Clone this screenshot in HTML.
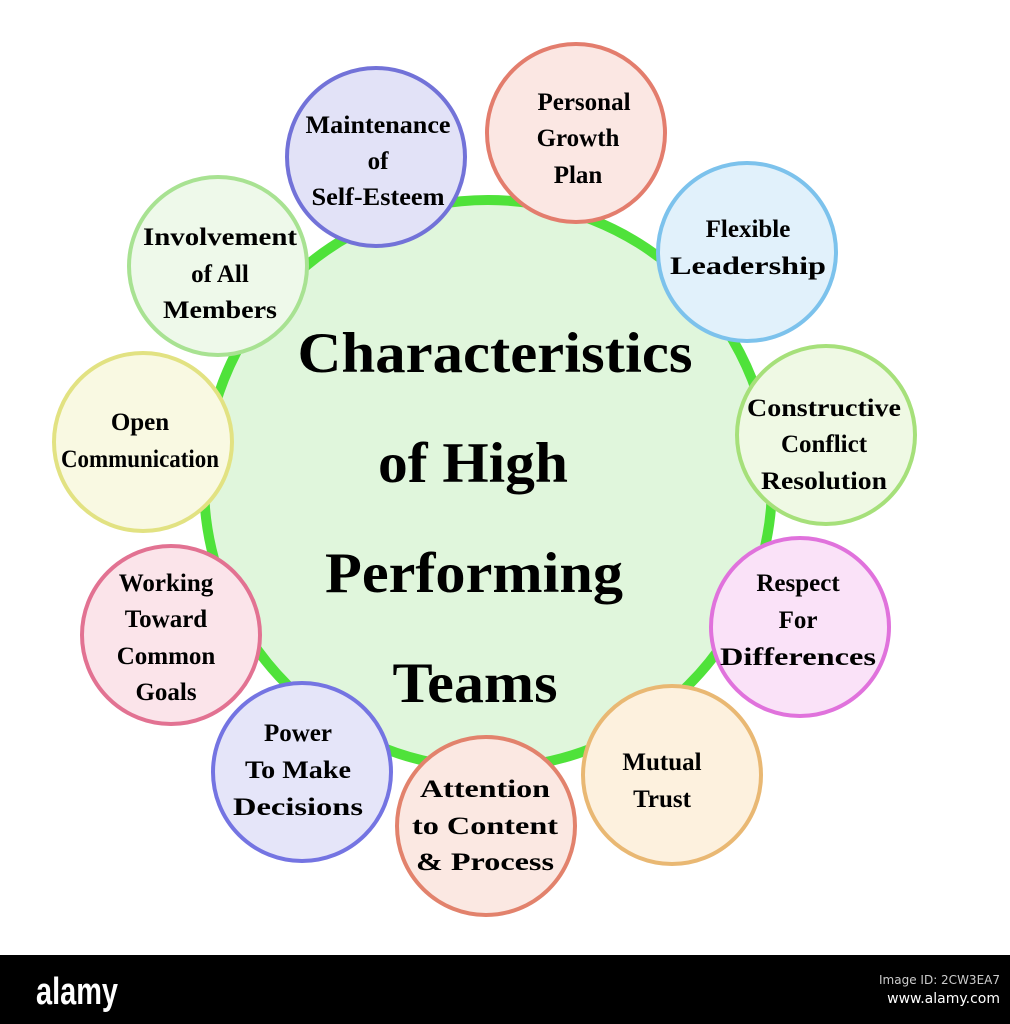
<!DOCTYPE html>
<html><head><meta charset="utf-8"><style>
html,body{margin:0;padding:0;background:#fff;}
svg{display:block;}
text{font-family:"Liberation Serif",serif;font-weight:bold;fill:#000;text-anchor:middle;}
.s{font-size:25px;}
.m{font-size:57px;}
</style></head><body>
<svg width="1010" height="1024" viewBox="0 0 1010 1024" xmlns="http://www.w3.org/2000/svg">
<rect width="1010" height="1024" fill="#fff"/>
<circle cx="488" cy="484" r="284" fill="#e0f6dc" stroke="#4fe23a" stroke-width="10"/>

<circle cx="376" cy="157" r="89" fill="#e2e2f7" stroke="#7272d8" stroke-width="4"/>
<circle cx="576" cy="133" r="89" fill="#fbe7e3" stroke="#e37d6d" stroke-width="4"/>
<circle cx="747" cy="252" r="89" fill="#e1f1fb" stroke="#7cc2ec" stroke-width="4"/>
<circle cx="826" cy="435" r="89" fill="#eff9e4" stroke="#a6e07a" stroke-width="4"/>
<circle cx="800" cy="627" r="89" fill="#fae2f8" stroke="#e072dc" stroke-width="4"/>
<circle cx="672" cy="775" r="89" fill="#fdf1de" stroke="#e9b873" stroke-width="4"/>
<circle cx="486" cy="826" r="89" fill="#fbe8e2" stroke="#e2826c" stroke-width="4"/>
<circle cx="302" cy="772" r="89" fill="#e5e5f9" stroke="#7474e2" stroke-width="4"/>
<circle cx="171" cy="635" r="89" fill="#fbe4ea" stroke="#e27292" stroke-width="4"/>
<circle cx="143" cy="442" r="89" fill="#f9f9e2" stroke="#e2e282" stroke-width="4"/>
<circle cx="218" cy="266" r="89" fill="#eef9ea" stroke="#a8e292" stroke-width="4"/>

<text class="m" x="495" y="372" textLength="395" lengthAdjust="spacingAndGlyphs">Characteristics</text>
<text class="m" x="473" y="482" textLength="190" lengthAdjust="spacingAndGlyphs">of High</text>
<text class="m" x="474" y="592" textLength="298" lengthAdjust="spacingAndGlyphs">Performing</text>
<text class="m" x="475" y="702" textLength="165" lengthAdjust="spacingAndGlyphs">Teams</text>

<text class="s" x="378" y="133" textLength="145" lengthAdjust="spacingAndGlyphs">Maintenance</text>
<text class="s" x="378" y="169">of</text>
<text class="s" x="378" y="205" textLength="133" lengthAdjust="spacingAndGlyphs">Self-Esteem</text>

<text class="s" x="584" y="110">Personal</text>
<text class="s" x="578" y="146">Growth</text>
<text class="s" x="578" y="183">Plan</text>

<text class="s" x="748" y="237">Flexible</text>
<text class="s" x="748" y="274" textLength="156" lengthAdjust="spacingAndGlyphs">Leadership</text>

<text class="s" x="824" y="416" textLength="154" lengthAdjust="spacingAndGlyphs">Constructive</text>
<text class="s" x="824" y="452">Conflict</text>
<text class="s" x="824" y="489" textLength="126" lengthAdjust="spacingAndGlyphs">Resolution</text>

<text class="s" x="798" y="591">Respect</text>
<text class="s" x="798" y="628">For</text>
<text class="s" x="798" y="665" textLength="156" lengthAdjust="spacingAndGlyphs">Differences</text>

<text class="s" x="662" y="770">Mutual</text>
<text class="s" x="662" y="807">Trust</text>

<text class="s" x="485" y="797" textLength="130" lengthAdjust="spacingAndGlyphs">Attention</text>
<text class="s" x="485" y="834" textLength="146" lengthAdjust="spacingAndGlyphs">to Content</text>
<text class="s" x="485" y="870" textLength="138" lengthAdjust="spacingAndGlyphs">&amp; Process</text>

<text class="s" x="298" y="741">Power</text>
<text class="s" x="298" y="778" textLength="106" lengthAdjust="spacingAndGlyphs">To Make</text>
<text class="s" x="298" y="815" textLength="130" lengthAdjust="spacingAndGlyphs">Decisions</text>

<text class="s" x="166" y="591">Working</text>
<text class="s" x="166" y="627">Toward</text>
<text class="s" x="166" y="664">Common</text>
<text class="s" x="166" y="700">Goals</text>

<text class="s" x="140" y="430">Open</text>
<text class="s" x="140" y="467" textLength="158" lengthAdjust="spacingAndGlyphs">Communication</text>

<text class="s" x="220" y="245" textLength="154" lengthAdjust="spacingAndGlyphs">Involvement</text>
<text class="s" x="220" y="282">of All</text>
<text class="s" x="220" y="318" textLength="114" lengthAdjust="spacingAndGlyphs">Members</text>

<rect x="0" y="955" width="1010" height="69" fill="#000"/>
<text x="77" y="1004" style="font-family:'Liberation Sans',sans-serif;font-size:38px;font-weight:bold;fill:#fff;" textLength="82" lengthAdjust="spacingAndGlyphs">alamy</text>
<text x="1000" y="984" style="font-family:'DejaVu Sans',sans-serif;font-size:12px;font-weight:normal;fill:#ccc;text-anchor:end;">Image ID: 2CW3EA7</text>
<text x="1000" y="1003" style="font-family:'DejaVu Sans',sans-serif;font-size:14px;font-weight:normal;fill:#fff;text-anchor:end;">www.alamy.com</text>
</svg>
</body></html>
